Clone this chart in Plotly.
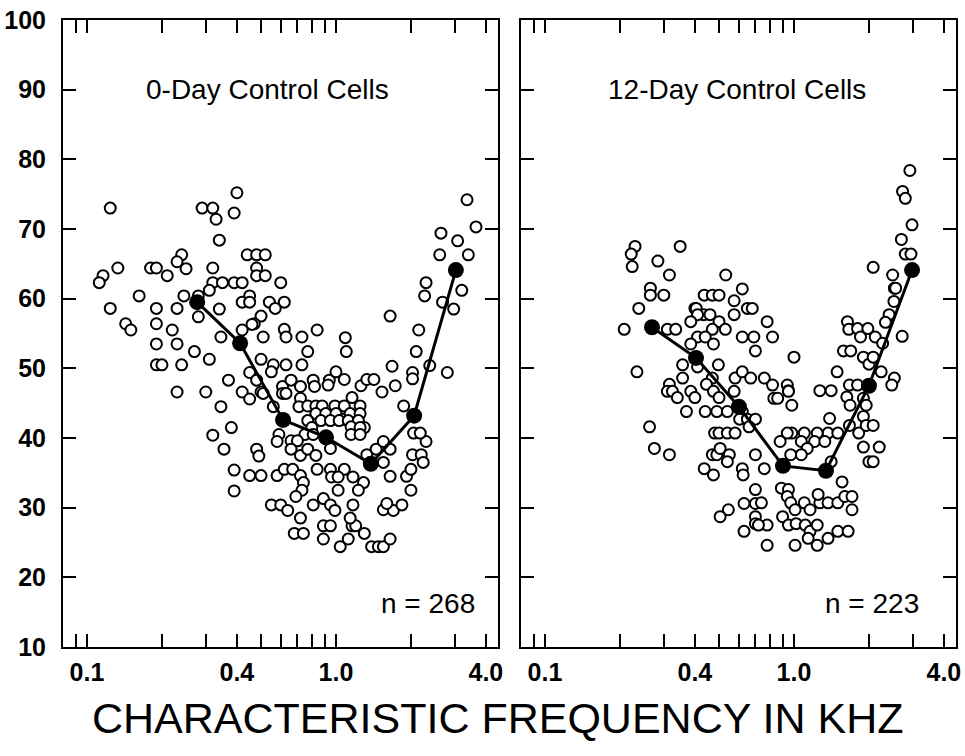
import plotly.graph_objects as go
import math

# ---------------- data (kHz, dB) ----------------
day0_freq = [0.124,0.29,0.32,0.40,0.39,0.33,0.34,0.24,0.23,0.44,0.48,0.52,0.25,0.18,0.19,0.133,0.32,0.48,0.48,0.52,
             0.116,0.112,0.21,0.32,0.35,0.39,0.42,0.60,0.31,0.245,0.162,0.28,0.45,0.42,0.45,0.54,0.62,0.57,0.124,0.19,
             0.23,0.34,0.28,0.50,0.47,0.46,0.143,0.15,0.19,0.22,0.62,0.63,0.42,0.345,0.51,0.73,0.19,0.23,0.77,0.27,
             0.31,0.50,0.19,0.20,0.24,0.56,0.63,0.73,
             0.37,0.45,0.48,0.23,0.30,0.42,0.45,0.50,0.345,0.38,0.32,0.355,0.48,0.49,0.39,0.45,0.50,0.39,
             0.84,1.09,1.10,1.65,2.3,2.27,2.68,2.97,3.2,2.15,2.1,2.38,2.8,1.68,2.03,2.03,1.73,1.53,1.87,0.51,
             0.55,0.61,0.66,0.72,0.81,0.82,0.94,1.0,1.08,1.26,1.33,1.42,0.93,0.61,0.63,0.72,0.71,0.77,0.83,0.88,
             0.99,1.08,1.16,1.25,0.56,0.83,0.91,1.0,1.07,1.14,1.25,0.77,0.87,0.95,1.03,1.12,1.23,1.30,0.80,1.15,
             1.25,1.15,1.25,0.75,0.81,0.59,0.58,0.95,0.66,0.70,0.66,0.72,0.77,0.83,1.33,1.45,1.55,1.65,1.55,1.65,
             1.92,2.0,2.03,2.2,2.24,2.3,2.05,2.18,0.58,0.62,0.67,0.72,0.84,0.95,1.08,0.96,1.02,1.17,1.29,1.23,
             0.74,0.73,0.69,1.02,0.55,0.60,0.64,0.81,0.89,0.95,0.99,1.17,1.55,1.7,1.84,1.6,2.0,0.72,0.68,0.74,
             0.89,0.95,1.16,1.2,1.30,1.14,0.89,1.04,1.12,1.39,1.48,1.55,1.65,
             3.36,3.65,2.64,3.08,2.61,3.4]
day0_db = [73,73,73,75.2,72.3,71.4,68.4,66.3,65.3,66.3,66.3,66.3,64.3,64.4,64.4,64.4,64.4,64.4,63.3,63.3,
           63.3,62.3,63.3,62.3,62.3,62.3,62.3,62.3,61.2,60.4,60.4,60.4,60.4,59.5,59.5,59.5,59.5,58.6,58.6,58.6,
           58.6,58.5,57.4,57.5,56.4,56.3,56.4,55.5,56.4,55.5,55.6,54.5,55.5,54.5,54.5,54.5,53.5,53.5,52.4,52.4,
           51.3,51.3,50.5,50.5,50.5,50.5,50.5,50.5,
           48.3,49.4,48.3,46.6,46.6,46.6,45.6,46.6,44.5,41.5,40.4,38.4,38.4,37.4,35.4,34.6,34.6,32.4,
           55.5,54.4,52.4,57.5,62.3,60.4,59.5,58.5,61.2,55.5,52.4,50.4,49.4,50.3,49.4,48.5,47.5,46.6,44.6,46.4,
           49.5,47.4,48.3,47.4,48.3,47.4,48.3,49.5,48.4,47.5,48.4,48.4,47.6,46.4,46.4,45.7,44.5,44.6,44.6,44.6,
           44.6,44.6,45.8,44.6,44.5,43.5,43.5,43.5,42.7,43.5,43.5,42.5,42.5,42.5,42.5,42.5,42.5,41.5,41.5,41.6,
           41.5,40.5,40.5,40.5,40.5,40.5,39.5,38.5,39.6,39.6,38.4,37.5,38.4,37.5,37.6,38.4,39.5,38.4,36.5,34.5,
           34.5,35.5,37.6,37.6,36.5,39.5,40.7,40.7,34.6,35.5,35.5,34.6,35.5,35.5,35.5,34.4,34.4,34.4,33.6,32.5,
           33.6,32.5,31.6,32.5,30.4,30.4,29.6,30.4,31.3,30.4,29.6,30.4,29.7,29.6,30.4,30.6,32.5,28.5,26.3,26.3,
           27.4,27.4,27.4,27.4,26.3,28.5,25.5,24.4,25.5,24.4,24.4,24.4,25.5,
           74.2,70.3,69.4,68.3,66.3,66.3]

day12_freq = [0.230,0.222,0.349,0.284,0.224,0.316,0.532,0.265,0.265,0.30,0.62,0.436,0.47,0.50,0.575,0.65,0.68,0.238,0.40,0.405,
              0.434,0.46,0.41,0.575,0.78,0.208,0.31,0.335,0.385,0.50,0.53,0.47,0.62,0.69,0.82,0.41,0.44,0.385,0.475,0.70,
              1.0,0.234,0.357,0.497,0.41,0.357,0.47,0.58,0.62,0.67,0.76,0.82,0.94,0.95,0.316,0.31,0.325,0.34,0.385,0.40,
              0.445,0.475,0.50,0.575,0.83,0.86,0.98,0.37,0.44,0.49,0.54,0.62,
              0.605,0.65,0.70,0.66,0.263,0.48,0.50,0.54,0.58,0.275,0.316,0.47,0.49,0.505,0.55,0.54,0.70,0.436,0.475,0.62,
              0.625,0.70,0.63,0.70,0.545,0.505,0.70,0.70,0.63,
              2.92,2.73,2.8,2.98,2.7,2.8,2.95,2.08,2.49,2.53,2.56,2.52,2.41,2.33,1.64,1.66,1.8,1.85,1.98,2.12,
              2.27,2.72,1.58,1.69,1.9,2.0,2.08,2.24,1.49,2.53,2.47,1.67,1.8,1.63,1.68,1.9,1.95,1.27,1.41,1.9,
              1.67,1.82,1.95,2.08,1.9,2.2,2.0,2.08,1.39,1.37,1.50,1.24,1.10,0.98,0.94,1.07,1.21,1.33,0.88,1.13,
              1.07,0.97,1.41,0.76,0.74,0.78,0.72,0.89,0.95,0.94,0.97,1.01,1.10,1.16,1.27,1.25,1.37,1.50,1.60,1.71,
              1.71,1.56,0.90,0.95,1.02,1.11,1.16,1.24,1.14,1.37,1.50,1.65,0.78,1.01,1.24,0.95]
day12_db = [67.5,66.4,67.5,65.4,64.6,63.4,63.4,61.5,60.5,60.5,61.4,60.5,60.5,60.5,59.7,58.6,58.6,58.6,58.6,58.6,
            57.7,57.7,57.7,57.7,56.7,55.6,55.6,55.6,56.7,56.7,55.6,55.6,54.5,54.5,54.5,54.5,54.5,53.5,53.5,52.5,
            51.6,49.5,50.5,50.5,50.2,48.6,48.6,48.6,49.5,48.6,48.6,47.6,47.6,46.8,47.7,46.7,46.7,45.8,46.7,45.8,
            47.7,46.7,45.8,46.7,45.7,45.7,44.7,43.8,43.8,43.8,43.8,43.8,
            42.7,42.7,42.7,41.6,41.6,40.7,40.7,40.7,40.7,38.5,37.6,37.6,37.6,38.5,37.6,36.6,37.6,35.6,34.7,35.6,
            34.7,32.6,30.6,30.6,29.7,28.7,28.7,27.7,26.6,
            78.4,75.4,74.4,70.6,68.5,66.4,66.4,64.5,63.4,61.5,61.5,59.6,57.7,56.6,56.7,55.6,55.7,54.5,55.7,54.5,
            53.6,54.6,52.5,52.5,51.6,50.6,51.6,49.5,49.5,48.6,47.6,47.6,47.6,45.9,44.7,45.7,44.7,46.8,46.8,43.1,
            41.8,40.7,41.8,41.8,38.7,38.7,36.6,36.6,42.8,40.7,40.7,40.7,40.7,40.7,40.7,39.5,39.5,39.5,39.5,38.5,
            37.6,37.6,36.6,35.6,30.7,27.5,27.5,32.8,32.6,31.6,30.7,29.7,30.7,29.7,30.7,31.9,30.7,30.7,31.6,31.6,
            29.7,33.7,28.7,27.5,27.7,27.5,26.6,27.5,25.6,25.6,26.6,26.6,24.6,24.6,24.6,46.7]

day0_mean_freq = [0.277, 0.412, 0.613, 0.912, 1.38, 2.06, 3.03]
day0_mean_db = [59.5, 53.6, 42.6, 40.1, 36.3, 43.2, 64.1]
day12_mean_freq = [0.269, 0.404, 0.601, 0.903, 1.344, 2.0, 2.98]
day12_mean_db = [55.9, 51.5, 44.5, 36.0, 35.3, 47.5, 64.1]

panel_titles = ["0-Day Control Cells", "12-Day Control Cells"]
panel_counts = ["n = 268", "n = 223"]
x_title = "CHARACTERISTIC FREQUENCY IN KHZ"

x_tick_values = [0.09, 0.1, 0.2, 0.3, 0.4, 0.5, 0.6, 0.7, 0.8, 0.9, 1.0, 2.0, 3.0, 4.0]
x_tick_labels = ["", "0.1", "", "", "0.4", "", "", "", "", "", "1.0", "", "", "4.0"]
y_tick_values = [10, 20, 30, 40, 50, 60, 70, 80, 90, 100]

# ---------------- figure ----------------
W, H = 965, 756
FONT = "Liberation Sans, Arial, Helvetica, sans-serif"
TICKFONT = dict(family=FONT, size=25, color="black", weight="bold")

fig = go.Figure()
panels = [
    ("x", "y", day0_freq, day0_db, day0_mean_freq, day0_mean_db),
    ("x2", "y2", day12_freq, day12_db, day12_mean_freq, day12_mean_db),
]
for xa, ya, fx, fy, mx, my in panels:
    fig.add_trace(go.Scatter(
        x=fx, y=fy, xaxis=xa, yaxis=ya, mode="markers",
        marker=dict(symbol="circle", size=11, color="white",
                    line=dict(color="black", width=2)),
        showlegend=False, hoverinfo="x+y"))
    fig.add_trace(go.Scatter(
        x=mx, y=my, xaxis=xa, yaxis=ya, mode="lines+markers",
        line=dict(color="black", width=3),
        marker=dict(symbol="circle", size=16, color="black"),
        showlegend=False, hoverinfo="x+y"))

x_range = [math.log10(0.0801), math.log10(4.474)]
common_x = dict(type="log", range=x_range, showline=True, linecolor="black", linewidth=2,
                mirror="ticks", ticks="inside", ticklen=13, tickwidth=2, tickcolor="black",
                tickmode="array", tickvals=x_tick_values, ticktext=x_tick_labels,
                tickfont=TICKFONT, automargin=False,
                showgrid=False, zeroline=False, ticklabelstandoff=2)
common_y = dict(range=[10, 100], showline=True, linecolor="black", linewidth=2,
                mirror="ticks", ticks="inside", ticklen=13, tickwidth=2, tickcolor="black",
                tickmode="array", tickvals=y_tick_values, automargin=False,
                tickfont=TICKFONT,
                showgrid=False, zeroline=False)

ydom = [1 - 647 / H, 1 - 20 / H]
fig.update_layout(
    width=W, height=H,
    margin=dict(l=0, r=0, t=0, b=0, autoexpand=False),
    paper_bgcolor="white", plot_bgcolor="white",
    xaxis=dict(domain=[63 / W, 498 / W], anchor="y", **common_x),
    xaxis2=dict(domain=[521 / W, 956 / W], anchor="y2", **common_x),
    yaxis=dict(domain=ydom, anchor="x", showticklabels=True, ticklabelstandoff=10, **common_y),
    yaxis2=dict(domain=ydom, anchor="x2", showticklabels=False, **common_y),
    font=dict(family=FONT, color="black"),
)

annotations = [
    dict(text=panel_titles[0], xref="x domain", yref="y", x=0.471, y=90, showarrow=False,
         xanchor="center", yanchor="middle", font=dict(family=FONT, size=28)),
    dict(text=panel_titles[1], xref="x2 domain", yref="y2", x=0.497, y=90, showarrow=False,
         xanchor="center", yanchor="middle", font=dict(family=FONT, size=28)),
    dict(text=panel_counts[0], xref="x domain", yref="y", x=0.952, y=16.3, showarrow=False,
         xanchor="right", yanchor="middle", font=dict(family=FONT, size=28)),
    dict(text=panel_counts[1], xref="x2 domain", yref="y2", x=0.9195, y=16.3, showarrow=False,
         xanchor="right", yanchor="middle", font=dict(family=FONT, size=28)),
    dict(text=x_title, xref="paper", yref="paper", x=498 / W, y=1 - 718 / H, showarrow=False,
         xanchor="center", yanchor="middle", font=dict(family=FONT, size=43)),
]
fig.update_layout(annotations=annotations)

fig.write_html("out.html",
               config={"displayModeBar": False},
               post_script="document.body.style.margin='0';document.body.style.overflow='hidden';")
